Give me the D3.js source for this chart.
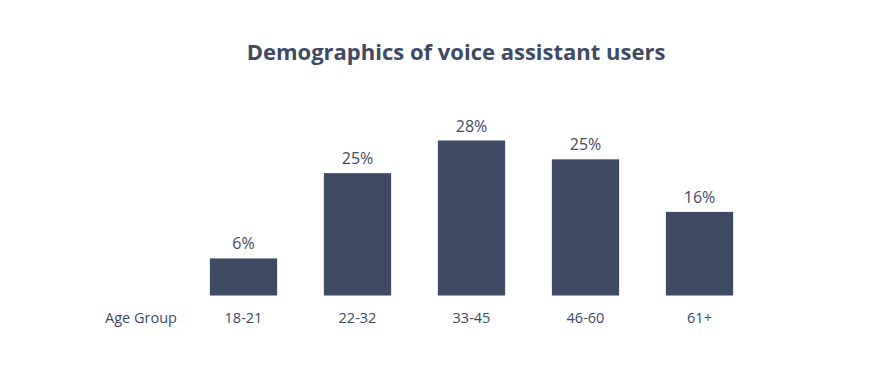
<!DOCTYPE html>
<html>
<head>
<meta charset="utf-8">
<script src="https://cdn.jsdelivr.net/npm/d3@7"></script>
<style>
  body { margin: 0; background: #fff; }
  text { font-family: "Open Sans", sans-serif; fill: #3e4a64; }
</style>
</head>
<body>
<script>
// age groups and share of users (bar heights)
var ageGroups = ["18-21", "22-32", "33-45", "46-60", "61+"];
var shares = [6.7, 22.1, 28, 24.6, 15.1];
var shareLabels = ["6%", "25%", "28%", "25%", "16%"];

var svg = d3.select("body").append("svg")
    .attr("width", 885)
    .attr("height", 365);

svg.append("text")
    .attr("x", 456)
    .attr("y", 60)
    .attr("text-anchor", "middle")
    .style("font-size", "22px")
    .style("font-weight", 700)
    .text("Demographics of voice assistant users");

var x = d3.scaleBand()
    .domain(ageGroups)
    .range([186.5, 756.5])
    .paddingInner(0.41)
    .paddingOuter(0.205);

var y = d3.scaleLinear()
    .domain([0, 28])
    .range([295.5, 140.5]);

svg.selectAll("rect")
    .data(ageGroups)
    .enter()
    .append("rect")
    .attr("x", function(d) { return x(d); })
    .attr("width", x.bandwidth())
    .attr("y", function(d, i) { return y(shares[i]); })
    .attr("height", function(d, i) { return y(0) - y(shares[i]); })
    .attr("fill", "#3e4a64");

svg.selectAll(".val")
    .data(ageGroups)
    .enter()
    .append("text")
    .attr("class", "val")
    .attr("x", function(d) { return x(d) + x.bandwidth() / 2; })
    .attr("y", function(d, i) { return y(shares[i]) - 9; })
    .attr("text-anchor", "middle")
    .style("font-size", "16px")
    .text(function(d, i) { return shareLabels[i]; });

// category axis without line and ticks
var axis = svg.append("g")
    .attr("transform", "translate(0,306)")
    .call(d3.axisBottom(x).tickSize(0).tickPadding(0));
axis.select(".domain").remove();
axis.selectAll("text")
    .attr("dy", "1.2em")
    .style("font-size", "14.5px")
    .attr("fill", null);

svg.append("text")
    .attr("x", 141)
    .attr("y", 323.3)
    .attr("text-anchor", "middle")
    .style("font-size", "14.5px")
    .text("Age Group");
</script>
</body>
</html>
